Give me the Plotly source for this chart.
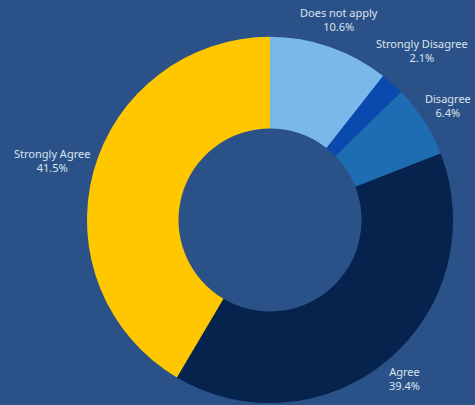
import math
import plotly.graph_objects as go

# Survey responses, clockwise from the top
labels = ["Does not apply", "Strongly Disagree", "Disagree", "Agree", "Strongly Agree"]
shares = [10.6, 2.1, 6.4, 39.4, 41.5]
colors = ["#7ab8ec", "#0a49ad", "#1e6cb2", "#05234d", "#ffc700"]

bg = "#2b5288"
text_color = "#dbe4ef"
W, H = 475, 405
dom_x = [0.183, 0.954]
dom_y = [0.005, 0.909]

fig = go.Figure(
    go.Pie(
        labels=labels,
        values=shares,
        sort=False,
        direction="clockwise",
        rotation=0,
        hole=0.5,
        marker=dict(colors=colors, line=dict(width=0)),
        textinfo="none",
        automargin=False,
        domain=dict(x=dom_x, y=dom_y),
        showlegend=False,
        hoverinfo="label+percent",
    )
)

# Outside labels: each block is centred on its slice's mid-angle ray,
# pushed out just far enough that its box clears the ring.
cx = W * (dom_x[0] + dom_x[1]) / 2
cy = H * (1 - (dom_y[0] + dom_y[1]) / 2)
radius = W * (dom_x[1] - dom_x[0]) / 2
gap = 3
line_h = 15
total = sum(shares)
start = 0.0
for lab, val in zip(labels, shares):
    mid = (start + val / 2) / total * 2 * math.pi
    start += val
    ux, uy = math.sin(mid), -math.cos(mid)
    pct = f"{val / total * 100:.1f}%"
    box_w = max(5.3 * len(lab), 6.4 * len(pct))
    box_h = 2 * line_h
    reach = abs(ux) * box_w / 2 + abs(uy) * box_h / 2
    dist = radius + gap + reach
    px = cx + ux * dist
    py = cy + uy * dist
    fig.add_annotation(
        x=px / W,
        y=1 - py / H,
        xref="paper",
        yref="paper",
        text=f"{lab}<br>{pct}",
        showarrow=False,
        xanchor="center",
        yanchor="middle",
        align="center",
        font=dict(family="Noto Sans", size=11, color=text_color),
    )

fig.update_layout(
    width=W,
    height=H,
    margin=dict(l=0, r=0, t=0, b=0, autoexpand=False),
    paper_bgcolor=bg,
    plot_bgcolor=bg,
)

fig.write_html("out.html")
